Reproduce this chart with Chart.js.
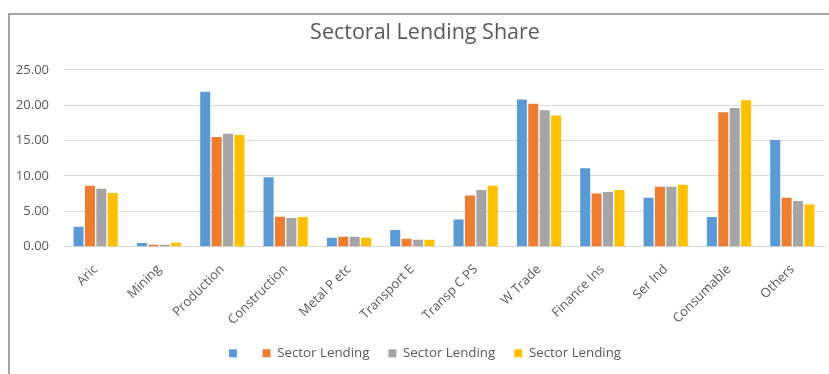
<!DOCTYPE html>
<html>
<head>
<meta charset="utf-8">
<script src="https://cdn.jsdelivr.net/npm/chart.js@4.4.0/dist/chart.umd.min.js"></script>
<style>
  html, body { margin: 0; padding: 0; background: #fff; overflow: hidden; }
  #frame { position: absolute; left: 8px; top: 13px; width: 840px; height: 380px;
           border-left: 2px solid #a6a6a6; border-top: 2px solid #a6a6a6; }
  #chart1 { position: absolute; left: 0; top: 0; }
</style>
</head>
<body>
<div id="frame"><canvas id="chart1" width="830" height="360"></canvas></div>
<script>
// sectors on the x axis
const sectors = ['Aric', 'Mining', 'Production', 'Construction', 'Metal P etc', 'Transport E',
    'Transp C PS', 'W Trade', 'Finance Ins', 'Ser Ind', 'Consumable', 'Others'];

// lending share per sector, one array per series
const share1 = [2.82, 0.52, 21.9, 9.83, 1.27, 2.35, 3.86, 20.8, 11.07, 6.92, 4.19, 15.07];
const share2 = [8.6, 0.28, 15.5, 4.24, 1.41, 1.13, 7.25, 20.2, 7.53, 8.47, 19.0, 6.92];
const share3 = [8.2, 0.28, 15.96, 4.05, 1.41, 0.99, 8.0, 19.3, 7.72, 8.47, 19.6, 6.45];
const share4 = [7.58, 0.56, 15.8, 4.2, 1.27, 0.99, 8.6, 18.55, 8.0, 8.76, 20.7, 5.98];

const seriesNames = ['', 'Sector Lending', 'Sector Lending', 'Sector Lending'];
const yTicks = [0, 5, 10, 15, 20, 25];

const textColor = '#595959';
const gridColor = '#d9d9d9';

Chart.defaults.font.family = "'Open Sans', sans-serif";
Chart.defaults.color = textColor;

const data = {
    labels: sectors,
    datasets: [{
        label: seriesNames[0],
        data: share1,
        backgroundColor: '#5b9bd5'
    }, {
        label: seriesNames[1],
        data: share2,
        backgroundColor: '#ed7d31'
    }, {
        label: seriesNames[2],
        data: share3,
        backgroundColor: '#a5a5a5'
    }, {
        label: seriesNames[3],
        data: share4,
        backgroundColor: '#ffc000'
    }]
};

const config = {
    type: 'bar',
    data: data,
    options: {
        responsive: false,
        animation: false,
        categoryPercentage: 0.72,
        barPercentage: 0.88,
        layout: {
            padding: { top: 0, right: 0, bottom: 5, left: 0 }
        },
        scales: {
            x: {
                grid: { display: false },
                border: { color: gridColor },
                ticks: {
                    autoSkip: false,
                    minRotation: 45,
                    maxRotation: 45,
                    padding: 7,
                    font: { size: 13 }
                },
                afterFit: function (scale) { scale.height = 81; }
            },
            y: {
                min: yTicks[0],
                max: yTicks[yTicks.length - 1],
                grid: { color: gridColor, drawTicks: false },
                border: { display: false },
                ticks: {
                    stepSize: 5,
                    padding: 15,
                    font: { size: 13 },
                    callback: function (v) { return v.toFixed(2); }
                },
                afterFit: function (scale) { scale.width = 54; }
            },
            // empty right axis: only reserves a margin so title and legend stay centred
            yRight: {
                type: 'linear',
                position: 'right',
                grid: { display: false },
                border: { display: false },
                ticks: { display: false },
                afterFit: function (scale) { scale.width = 16; }
            }
        },
        plugins: {
            title: {
                display: true,
                text: 'Sectoral Lending Share',
                color: textColor,
                font: { size: 21.5, weight: 'normal' },
                padding: { top: 5, bottom: 24 }
            },
            legend: {
                position: 'bottom',
                labels: {
                    boxWidth: 8,
                    boxHeight: 8,
                    padding: 19,
                    color: textColor,
                    font: { size: 13.3 }
                }
            },
            tooltip: { enabled: false }
        }
    }
};

new Chart(document.getElementById('chart1'), config);
</script>
</body>
</html>
